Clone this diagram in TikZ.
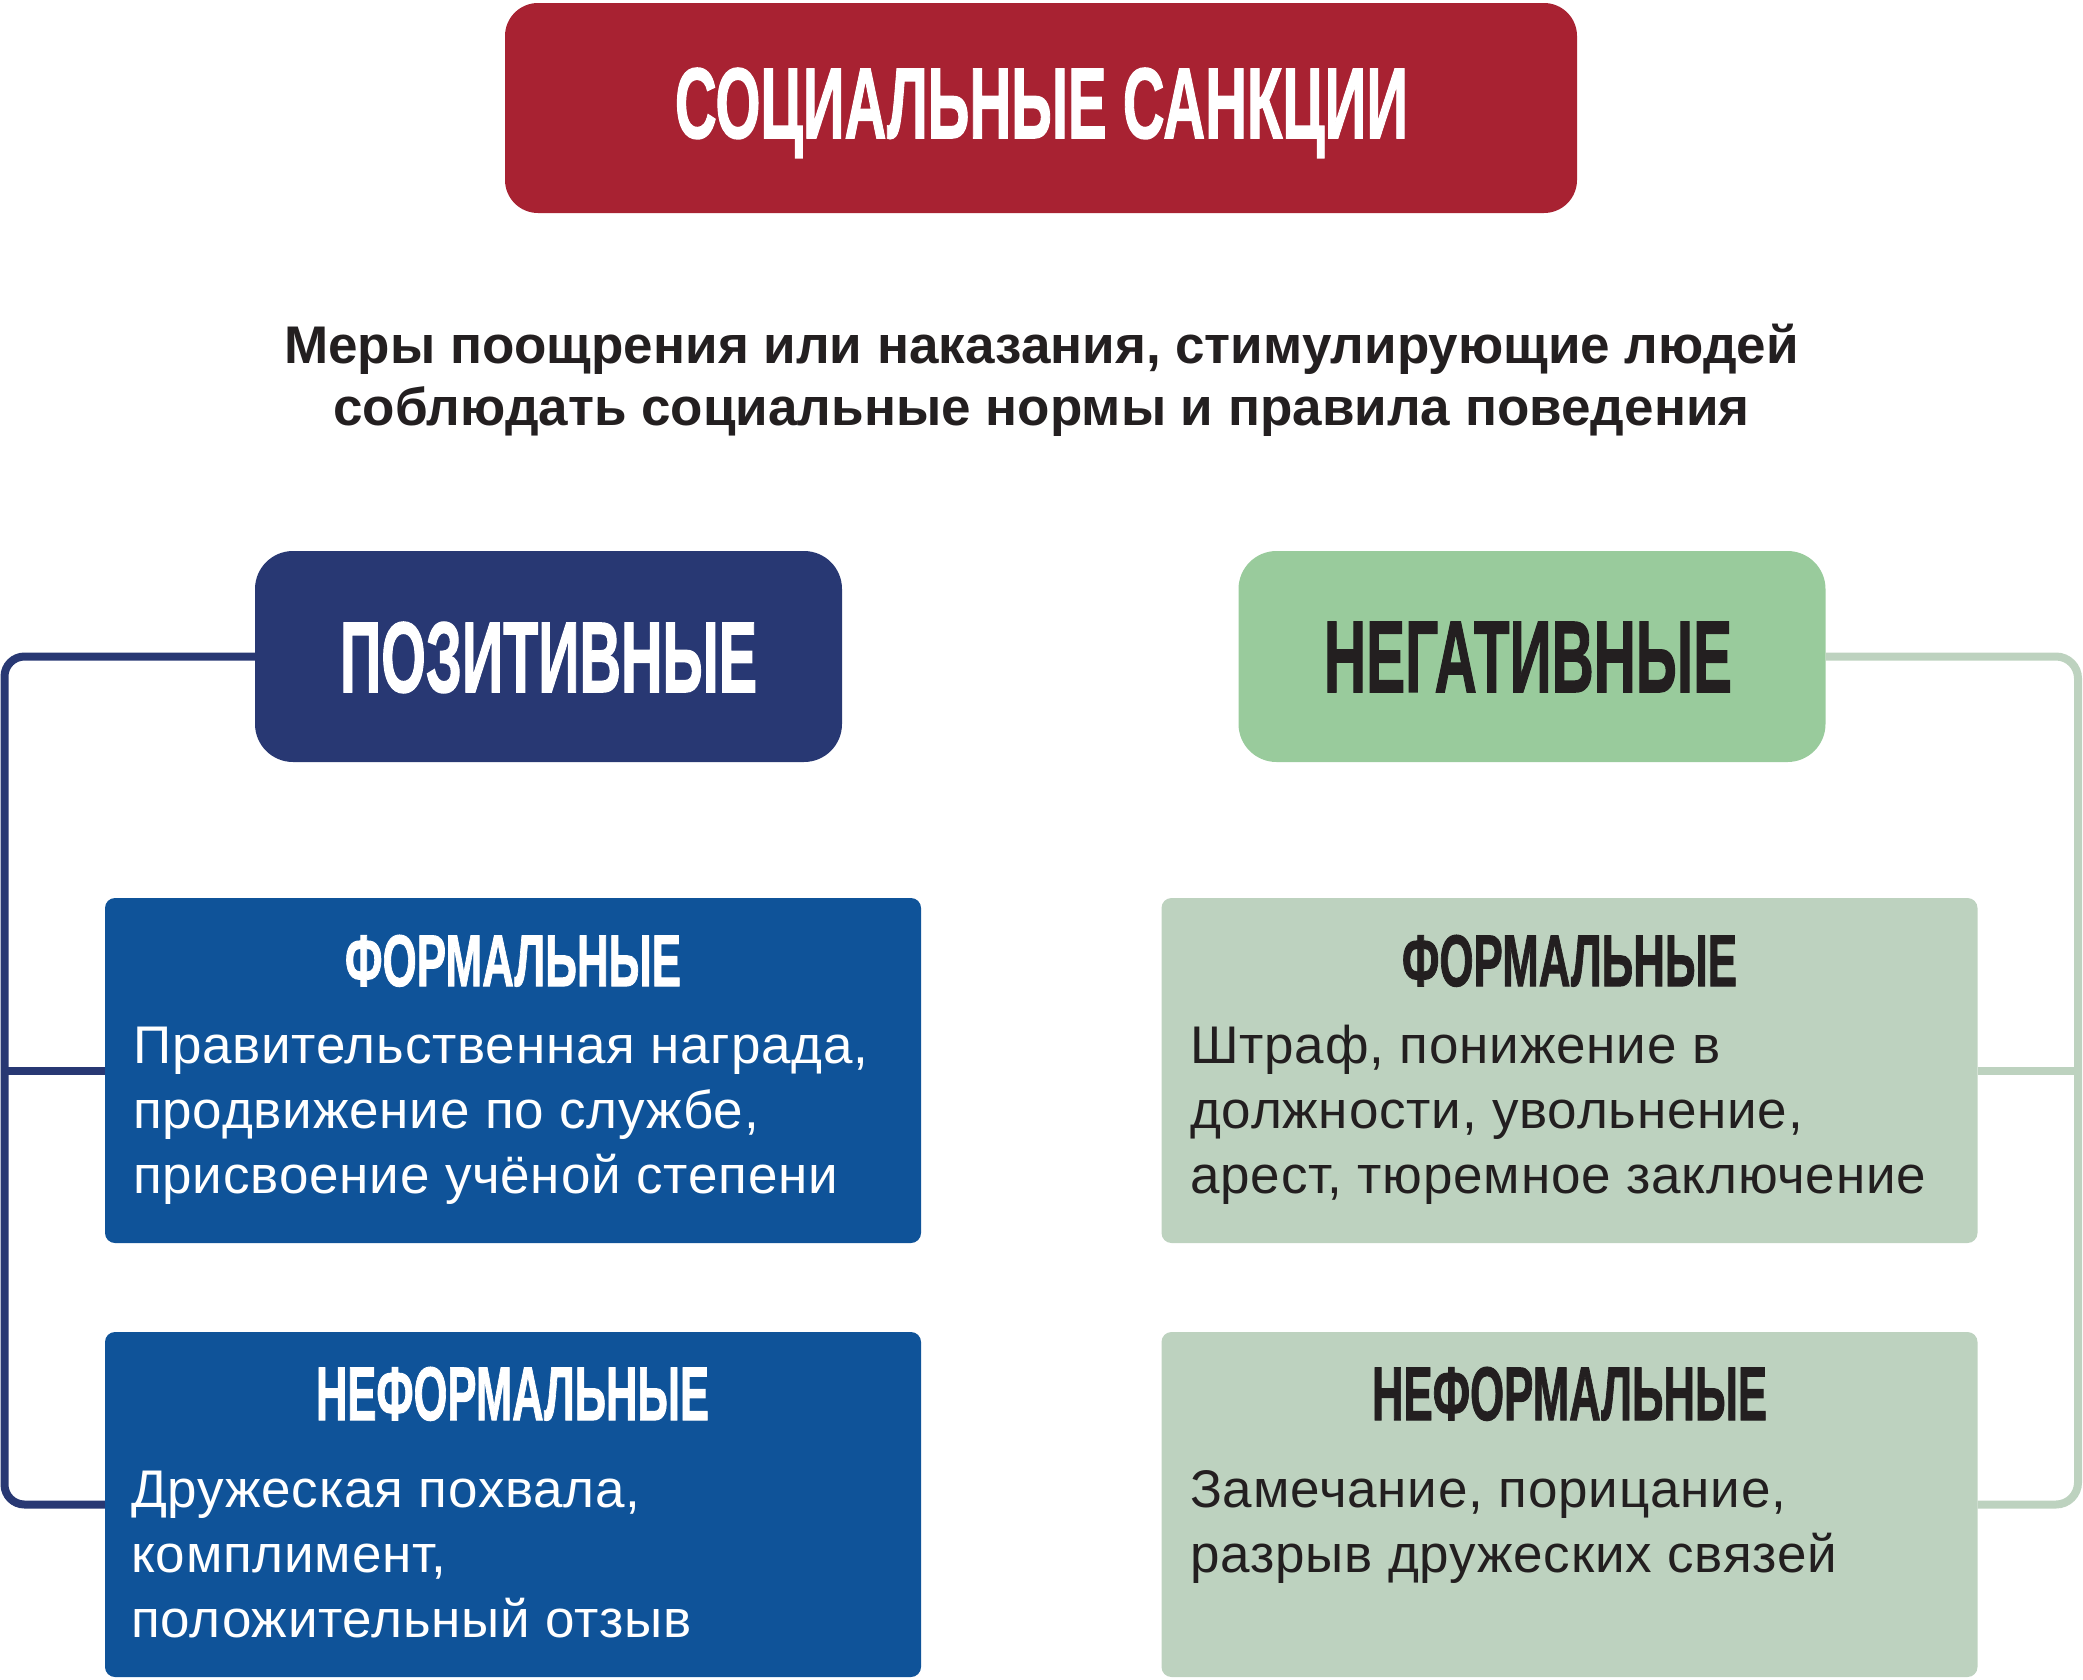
\documentclass[tikz,border=0pt]{standalone}
\usepackage{fontspec}
\setmainfont{Liberation Sans}
\newfontfamily\bodyfam[LetterSpace=1.5]{Liberation Sans}
\newfontfamily\headfam[FakeBold=1.5]{Liberation Sans Bold}
\usepackage{graphicx}
\definecolor{sred}{HTML}{A82232}
\definecolor{snavy}{HTML}{283873}
\definecolor{sgreen}{HTML}{99CB9C}
\definecolor{sblue}{HTML}{0F5399}
\definecolor{spale}{HTML}{BDD2BF}
\definecolor{sdark}{HTML}{231F20}
\tikzset{
  box/.style={inner sep=0pt, minimum width=#1, draw=none},
  bigbox/.style={box=587pt, minimum height=211pt, rounded corners=38pt},
  smallbox/.style={box=816pt, minimum height=345pt, rounded corners=10pt},
  headtext/.style={anchor=base, inner sep=0pt},
  bodytext/.style={anchor=base west, inner sep=0pt, align=left},
  navyline/.style={draw=snavy, line width=8pt, rounded corners=20pt},
  paleline/.style={draw=spale, line width=8pt, rounded corners=22pt},
}
\newcommand{\hd}[3]{\resizebox{#1pt}{#2pt}{\headfam #3}}
\newcommand{\bodyfont}{\bodyfam\fontsize{53}{65}\selectfont}
\begin{document}
\begin{tikzpicture}[x=1pt,y=-1pt]
\useasboundingbox (0,0) rectangle (2083,1679);
% boxes
\node[box=1072pt, minimum height=210pt, rounded corners=33pt, fill=sred] (title) at (1041,108) {};
\node[bigbox, fill=snavy] (pos) at (548.5,656.5) {};
\node[bigbox, fill=sgreen] (neg) at (1532,656.5) {};
\node[smallbox, fill=sblue] (pform) at (513,1070.5) {};
\node[smallbox, fill=sblue] (pinf) at (513,1504.5) {};
\node[smallbox, fill=spale] (nform) at (1569.5,1070.5) {};
\node[smallbox, fill=spale] (ninf) at (1569.5,1504.5) {};
% connectors
\coordinate (lx) at (4.5,0);
\coordinate (rx) at (2078,0);
\draw[navyline] (pos.west) -- (pos.west -| lx) -- (pinf.west -| lx) -- (pinf.west);
\draw[navyline, rounded corners=0pt] (pform.west -| lx) -- (pform.west);
\draw[paleline] (neg.east) -- (neg.east -| rx) -- (ninf.east -| rx) -- (ninf.east);
\draw[paleline, rounded corners=0pt] (nform.east -| rx) -- (nform.east);
% headings
\node[headtext, text=white] (titletext) at (1041.5,138) {\hd{733}{70}{СОЦИАЛЬНЫЕ САНКЦИИ}};
\node[headtext, text=white] (postext) at (548.5,692) {\hd{417}{70}{ПОЗИТИВНЫЕ}};
\node[headtext, text=sdark] (negtext) at (1528,692) {\hd{408}{70}{НЕГАТИВНЫЕ}};
\node[headtext, text=white] (pformt) at (513,986) {\hd{336}{51}{ФОРМАЛЬНЫЕ}};
\node[headtext, text=white] (pinft) at (512.5,1420) {\hd{393}{53}{НЕФОРМАЛЬНЫЕ}};
\node[headtext, text=sdark] (nformt) at (1569.5,986) {\hd{335}{51}{ФОРМАЛЬНЫЕ}};
\node[headtext, text=sdark] (ninft) at (1569.5,1420) {\hd{395}{53}{НЕФОРМАЛЬНЫЕ}};
% subtitle
\node[headtext, text=sdark] (sub) at (1041.5,363) {\parbox[t]{1800pt}{\centering\fontsize{53}{62}\selectfont\bfseries
Меры поощрения или наказания, стимулирующие людей\\
соблюдать социальные нормы и правила поведения}};
% bodies
\node[bodytext, text=white] (pformb) at (133,1063) {\parbox[t]{780pt}{\raggedright\bodyfont
Правительственная награда,\\продвижение по службе,\\присвоение учёной степени}};
\node[bodytext, text=white] (pinfb) at (131,1507) {\parbox[t]{780pt}{\raggedright\bodyfont
Дружеская похвала,\\комплимент,\\положительный отзыв}};
\node[bodytext, text=sdark] (nformb) at (1190,1063) {\parbox[t]{780pt}{\raggedright\bodyfont
Штраф, понижение в\\должности, увольнение,\\арест, тюремное заключение}};
\node[bodytext, text=sdark] (ninfb) at (1190,1507) {\parbox[t]{780pt}{\raggedright\bodyfont
Замечание, порицание,\\разрыв дружеских связей}};
\end{tikzpicture}
\end{document}
